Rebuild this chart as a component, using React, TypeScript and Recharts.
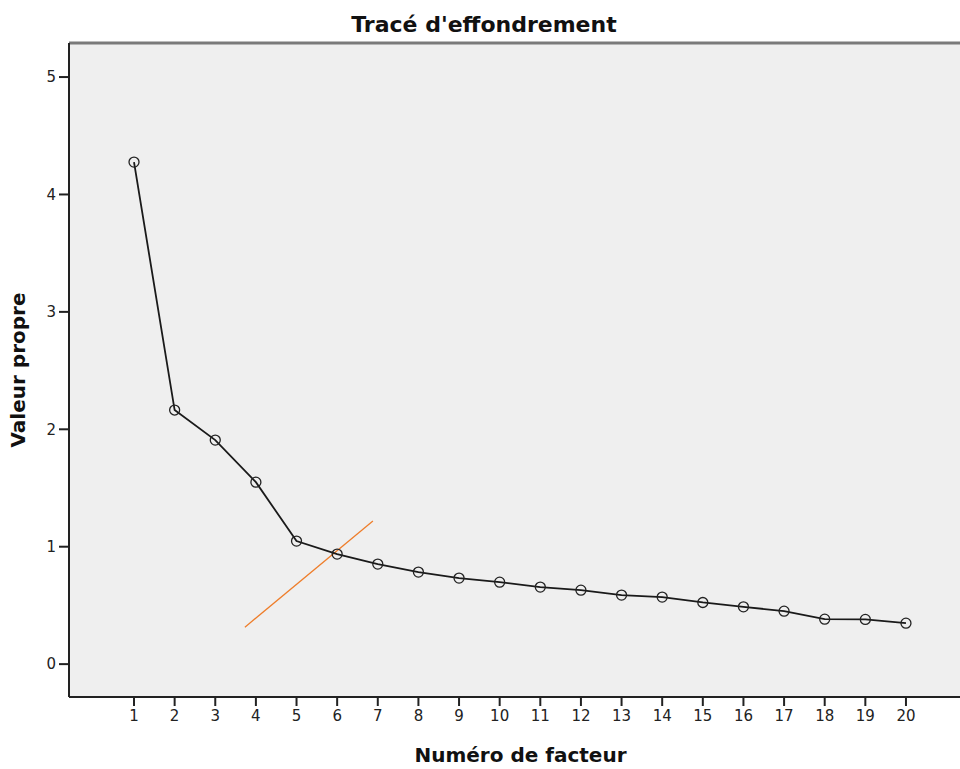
import React from "react";
import {
  ComposedChart,
  Line,
  XAxis,
  YAxis,
  CartesianGrid,
  ReferenceLine,
  Label,
} from "recharts";

const factors = [1, 2, 3, 4, 5, 6, 7, 8, 9, 10, 11, 12, 13, 14, 15, 16, 17, 18, 19, 20];
const eigenvalues = [
  4.276, 2.164, 1.908, 1.55, 1.048, 0.937, 0.852, 0.784, 0.733, 0.698, 0.656, 0.63, 0.588,
  0.571, 0.525, 0.488, 0.451, 0.383, 0.381, 0.349,
];
const yTicks = [0, 1, 2, 3, 4, 5];
const elbowSegment = [
  { x: 3.73, y: 0.315 },
  { x: 6.88, y: 1.218 },
];

const data = factors.map((f, i) => ({ factor: f, value: eigenvalues[i] }));

const FONT = "'DejaVu Sans', sans-serif";
const X_DOMAIN: [number, number] = [-0.6, 21.33];
const Y_DOMAIN: [number, number] = [-0.28, 5.29];

const OpenDot = (props: any) => {
  const { cx, cy } = props;
  if (cx == null || cy == null) return null;
  return <circle cx={cx} cy={cy} r={5} fill="none" stroke="#222" strokeWidth={1.3} />;
};

export default function App() {
  return (
    <div style={{ position: "absolute", left: 0, top: 0, width: 960, height: 769, background: "#fff" }}>
      <div
        style={{
          position: "absolute",
          left: 0,
          top: 12,
          width: 968,
          textAlign: "center",
          fontFamily: FONT,
          fontWeight: "bold",
          fontSize: 22,
          color: "#111",
        }}
      >
        Tracé d'effondrement
      </div>
      <ComposedChart
        width={960}
        height={769}
        data={data}
        margin={{ top: 43, right: 0, left: 0, bottom: 0 }}
      >
        <CartesianGrid horizontal={false} vertical={false} fill="#efefef" stroke="none" />
        <XAxis
          dataKey="factor"
          type="number"
          domain={X_DOMAIN}
          ticks={factors}
          allowDataOverflow
          height={72}
          interval={0}
          axisLine={{ stroke: "#222", strokeWidth: 2 }}
          tickLine={{ stroke: "#222", strokeWidth: 2 }}
          tickSize={9}
          tick={{ fill: "#222", fontSize: 15, fontFamily: FONT, dy: 2 }}
        >
          <Label
            value="Numéro de facteur"
            position="insideBottom"
            offset={7}
            dx={6}
            style={{ fontFamily: FONT, fontWeight: "bold", fontSize: 20, fill: "#111" }}
          />
        </XAxis>
        <YAxis
          type="number"
          domain={Y_DOMAIN}
          ticks={yTicks}
          allowDataOverflow
          width={69}
          axisLine={{ stroke: "#222", strokeWidth: 2 }}
          tickLine={{ stroke: "#222", strokeWidth: 2 }}
          tickSize={10}
          tick={{ fill: "#222", fontSize: 15, fontFamily: FONT, dx: -1 }}
        >
          <Label
            value="Valeur propre"
            angle={-90}
            position="insideLeft"
            offset={18}
            style={{ fontFamily: FONT, fontWeight: "bold", fontSize: 20, fill: "#111", textAnchor: "middle" }}
          />
        </YAxis>
        <ReferenceLine y={Y_DOMAIN[1]} stroke="#7a7a7a" strokeWidth={3} ifOverflow="extendDomain" />
        <ReferenceLine
          segment={elbowSegment}
          stroke="#ee7d2a"
          strokeWidth={1.3}
          ifOverflow="visible"
        />
        <Line
          dataKey="value"
          stroke="#1a1a1a"
          strokeWidth={1.8}
          dot={<OpenDot />}
          activeDot={false}
          isAnimationActive={false}
        />
      </ComposedChart>
    </div>
  );
}
